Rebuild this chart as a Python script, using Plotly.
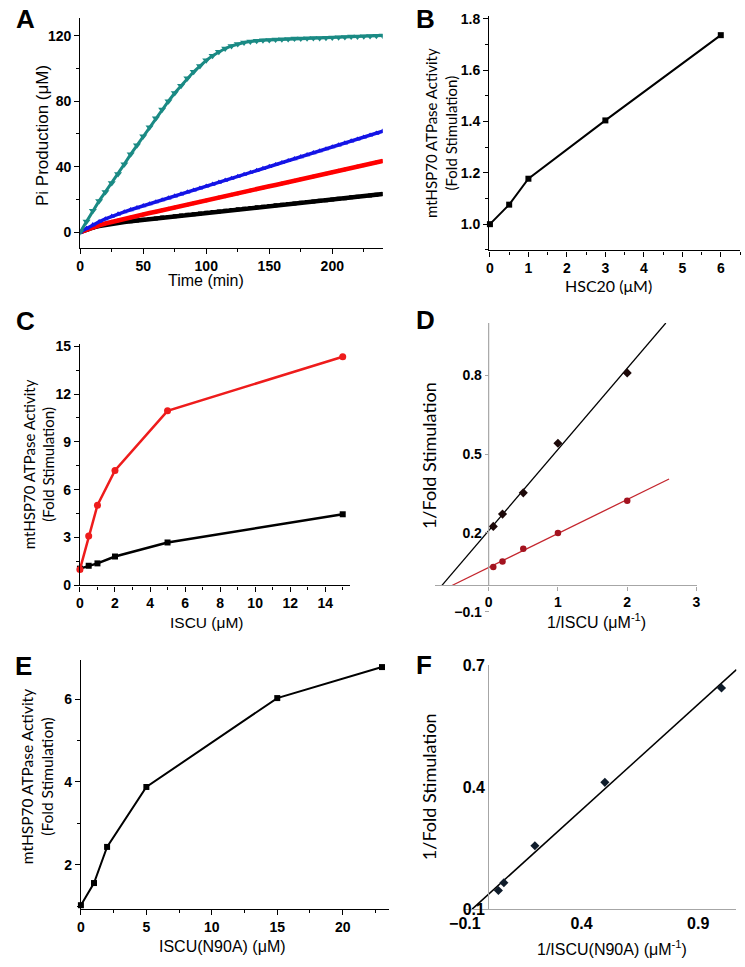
import plotly.graph_objects as go
import numpy as np

W, H = 745, 967

def px(x):
    return x / W

def py(y):
    return 1 - y / H

# ---------------- Panel A data (time course, read every 5 min) ----------------
a_time = list(range(0, 245, 5))
a_teal = [0, 6.5, 13, 19, 24.5, 30, 35.5, 41.5, 47.5, 53, 58.5, 64, 69.5, 75, 80, 85,
          89.5, 94, 98, 101.5, 105, 107.8, 110.2, 112.2, 113.8, 115, 115.9, 116.5, 117,
          117.3, 117.5, 117.7, 117.9, 118.1, 118.3, 118.4, 118.5, 118.6, 118.7, 118.8,
          118.9, 119.1, 119.3, 119.5, 119.6, 119.8, 119.9, 120, 120.2]
a_blue = [0, 2.3, 4.4, 6.3, 8, 9.6, 11, 12.3, 13.6, 14.8, 16, 17.2, 18.4, 19.6, 20.8, 22,
          23.2, 24.4, 25.6, 26.8, 28, 29.2, 30.4, 31.6, 32.8, 34, 35.2, 36.4, 37.6, 38.8,
          40, 41.2, 42.4, 43.6, 44.8, 46, 47.2, 48.4, 49.6, 50.8, 52, 53.2, 54.4, 55.6,
          56.8, 58, 59.2, 60.4, 61.6]
a_red = [0, 1.5, 2.9, 4.1, 5.2, 6.2, 7.1, 8, 8.9, 9.8, 10.7, 11.6, 12.4, 13.3, 14.2, 15,
         15.9, 16.7, 17.6, 18.5, 19.3, 20.2, 21.1, 21.9, 22.8, 23.6, 24.5, 25.4, 26.2,
         27.1, 28, 28.8, 29.7, 30.5, 31.4, 32.3, 33.1, 34, 34.9, 35.7, 36.6, 37.4, 38.3,
         39.2, 40, 40.9, 41.8, 42.6, 43.4]
a_black = [0, 1.5, 2.7, 3.6, 4.4, 5.1, 5.6, 6.1, 6.6, 7.0, 7.5, 7.9, 8.3, 8.8, 9.2, 9.6,
           10.1, 10.5, 10.9, 11.3, 11.8, 12.2, 12.6, 13.0, 13.5, 13.9, 14.3, 14.7, 15.1,
           15.5, 15.9, 16.3, 16.7, 17.1, 17.5, 17.9, 18.3, 18.7, 19.1, 19.5, 19.9, 20.3,
           20.7, 21.2, 21.6, 22.0, 22.4, 22.8, 23.2]

# ---------------- Panel B ----------------
b_hsc20 = [0, 0.5, 1, 3, 6]
b_fold = [1.0, 1.076, 1.177, 1.404, 1.736]

# ---------------- Panel C ----------------
c_iscu = [0, 0.5, 1, 2, 5, 15]
c_red = [1.0, 3.1, 5.03, 7.21, 10.95, 14.34]
c_black = [1.05, 1.23, 1.38, 1.81, 2.69, 4.46]

# ---------------- Panel D (double reciprocal) ----------------
d_inv_iscu = [0.067, 0.2, 0.5, 1.0, 2.0]
d_black = [0.225, 0.272, 0.353, 0.542, 0.81]
d_red = [0.070, 0.0915, 0.14, 0.20, 0.323]
d_black_fit = {"slope": 0.3095, "intercept": 0.2087, "x": [-0.674, 2.557]}
d_red_fit = {"slope": 0.1295, "intercept": 0.0685, "x": [-0.529, 2.604]}

# ---------------- Panel E ----------------
e_iscu = [0, 1, 2, 5, 15, 23]
e_fold = [1.02, 1.556, 2.43, 3.88, 6.03, 6.78]

# ---------------- Panel F ----------------
f_inv_iscu = [0.0435, 0.067, 0.2, 0.5, 1.0]
f_inv_fold = [0.146, 0.165, 0.256, 0.412, 0.644]
f_fit = {"slope": 0.52, "intercept": 0.136, "x": [-0.069, 1.064]}

ARIAL = "Liberation Sans, Arial, sans-serif"
CALIBRI = "Lato, Carlito, Calibri, sans-serif"

fig = go.Figure()

# Panel A traces
fig.add_trace(go.Scatter(x=a_time, y=a_black, mode="lines+markers", xaxis="x", yaxis="y",
                         line=dict(color="black", width=4.5),
                         marker=dict(symbol="square", size=4, color="black")))
fig.add_trace(go.Scatter(x=a_time, y=a_red, mode="lines+markers", xaxis="x", yaxis="y",
                         line=dict(color="#ff0000", width=4.5),
                         marker=dict(symbol="circle", size=4, color="#ff0000")))
fig.add_trace(go.Scatter(x=a_time, y=a_blue, mode="lines+markers", xaxis="x", yaxis="y",
                         line=dict(color="#1414e6", width=3.5),
                         marker=dict(symbol="triangle-up", size=5.5, color="#1414e6")))
fig.add_trace(go.Scatter(x=a_time, y=a_teal, mode="lines+markers", xaxis="x", yaxis="y",
                         line=dict(color="#1a8a84", width=3),
                         marker=dict(symbol="triangle-down", size=7, color="#1a8a84")))

# Panel B
fig.add_trace(go.Scatter(x=b_hsc20, y=b_fold, mode="lines+markers", xaxis="x2", yaxis="y2",
                         line=dict(color="black", width=2),
                         marker=dict(symbol="square", size=6, color="black"), cliponaxis=False))

# Panel C
fig.add_trace(go.Scatter(x=c_iscu, y=c_black, mode="lines+markers", xaxis="x3", yaxis="y3",
                         line=dict(color="black", width=2.5),
                         marker=dict(symbol="square", size=6, color="black"), cliponaxis=False))
fig.add_trace(go.Scatter(x=c_iscu, y=c_red, mode="lines+markers", xaxis="x3", yaxis="y3",
                         line=dict(color="#ee1c1c", width=2.5),
                         marker=dict(symbol="circle", size=7, color="#ee1c1c"), cliponaxis=False))

# Panel D
for fit, col in ((d_black_fit, "black"), (d_red_fit, "#c4262e")):
    fx = np.array(fit["x"])
    fig.add_trace(go.Scatter(x=fx, y=fit["intercept"] + fit["slope"] * fx, mode="lines",
                             xaxis="x4", yaxis="y4", line=dict(color=col, width=1.3)))
fig.add_trace(go.Scatter(x=d_inv_iscu, y=d_black, mode="markers", xaxis="x4", yaxis="y4",
                         marker=dict(symbol="diamond", size=7, color="#1c0808")))
fig.add_trace(go.Scatter(x=d_inv_iscu, y=d_red, mode="markers", xaxis="x4", yaxis="y4",
                         marker=dict(symbol="circle", size=6.5, color="#a3131f")))

# Panel E
fig.add_trace(go.Scatter(x=e_iscu, y=e_fold, mode="lines+markers", xaxis="x5", yaxis="y5",
                         line=dict(color="black", width=2),
                         marker=dict(symbol="square", size=6, color="black"), cliponaxis=False))

# Panel F
fx = np.array(f_fit["x"])
fig.add_trace(go.Scatter(x=fx, y=f_fit["intercept"] + f_fit["slope"] * fx, mode="lines",
                         xaxis="x6", yaxis="y6", line=dict(color="black", width=1.5),
                         cliponaxis=False))
fig.add_trace(go.Scatter(x=f_inv_iscu, y=f_inv_fold, mode="markers", xaxis="x6", yaxis="y6",
                         marker=dict(symbol="diamond", size=7, color="#0f1c2b")))

bold_tick = dict(family=ARIAL, size=14, color="black", weight="bold")

def origin_axis(**kw):
    d = dict(showline=True, linecolor="black", linewidth=1.3, ticks="outside", ticklen=5,
             tickwidth=1.3, tickcolor="black", showgrid=False, zeroline=False,
             tickfont=bold_tick)
    d.update(kw)
    return d

def excel_axis(**kw):
    d = dict(showline=True, linecolor="#a6a6a6", linewidth=1.2, ticks="outside", ticklen=4,
             tickwidth=1, tickcolor="#a6a6a6", showgrid=False, zeroline=False,
             tickfont=bold_tick)
    d.update(kw)
    return d

layout = dict(
    width=W, height=H, margin=dict(l=0, r=0, t=0, b=0),
    paper_bgcolor="white", plot_bgcolor="white", showlegend=False,
    # A
    xaxis=origin_axis(domain=[px(66), px(376.8)], range=[0, 240], dtick=50, anchor="y",
                      minor=dict(dtick=25, ticklen=3, ticks="outside", tickcolor="black")),
    yaxis=origin_axis(domain=[py(244), py(10)], range=[-9.6, 131], tick0=0, dtick=40, anchor="x",
                      minor=dict(tick0=0, dtick=20, ticklen=3, ticks="outside", tickcolor="black")),
    # B
    xaxis2=origin_axis(domain=[px(486.3), px(744)], range=[-0.018, 6.5], dtick=1, anchor="y2",
                       minor=dict(dtick=0.5, ticklen=3, ticks="outside", tickcolor="black")),
    yaxis2=origin_axis(domain=[py(246.7), py(8.3)], range=[0.898, 1.81], tick0=1.0, dtick=0.2,
                       tickformat=".1f", anchor="x2",
                       minor=dict(tick0=1.0, dtick=0.1, ticklen=3, ticks="outside", tickcolor="black")),
    # C
    xaxis3=origin_axis(domain=[px(65.7), px(343.3)], range=[0, 15.42], dtick=2, anchor="y3",
                       minor=dict(dtick=1, ticklen=3, ticks="outside", tickcolor="black")),
    yaxis3=origin_axis(domain=[py(587.7), py(341.7)], range=[0, 15.16], tick0=0, dtick=3, anchor="x3",
                       minor=dict(tick0=0, dtick=1.5, ticklen=3, ticks="outside", tickcolor="black")),
    # D
    xaxis4=excel_axis(domain=[px(430.3), px(699.3)], range=[-0.778, 3.0005], tick0=0, dtick=1,
                      anchor="free", position=py(587.8)),
    yaxis4=excel_axis(domain=[py(614.5), py(320.7)], range=[-0.1, 1.0], tick0=-0.1, dtick=0.3,
                      tickformat=".1f", anchor="free", position=px(485.7), showline=False),
    # E
    xaxis5=origin_axis(domain=[px(66.7), px(382.8)], range=[0, 23.5], dtick=5, anchor="y5",
                       minor=dict(dtick=2.5, ticklen=3, ticks="outside", tickcolor="black")),
    yaxis5=origin_axis(domain=[py(916.7), py(663.3)], range=[0.938, 6.96], tick0=0, dtick=2,
                       anchor="x5",
                       minor=dict(tick0=0, dtick=1, ticklen=3, ticks="outside", tickcolor="black")),
    # F
    xaxis6=excel_axis(domain=[px(461.3), px(740.3)], range=[-0.1, 1.064], tick0=-0.1, dtick=0.5,
                      tickformat=".1f", anchor="y6", ticks="", tickfont=dict(family=ARIAL, size=16,
                                                                             color="black", weight="bold")),
    yaxis6=excel_axis(domain=[py(917.3), py(669)], range=[0.1, 0.7], tick0=0.1, dtick=0.3,
                      tickformat=".1f", anchor="free", position=px(485.3), ticks="",
                      tickfont=dict(family=ARIAL, size=16, color="black", weight="bold")),
)
fig.update_layout(**layout)

# D vertical axis line (from y = 0 to the top of the range, as in the source)
fig.add_shape(type="line", xref="x4", yref="y4", x0=0, x1=0, y0=0, y1=1.0,
              line=dict(color="#a6a6a6", width=1.2))

def ann(text, x, y, size, family, angle=0, bold=False):
    fig.add_annotation(text=text, x=px(x), y=py(y), xref="paper", yref="paper",
                       xanchor="center", yanchor="middle", showarrow=False, textangle=angle,
                       font=dict(family=family, size=size, color="black",
                                 weight="bold" if bold else "normal"))

# panel letters
for letter, (lx, ly) in {"A": (10, 11), "B": (420.5, 11.5), "C": (10, 319), "D": (420.5, 317.5),
                          "E": (8, 670), "F": (419.5, 669)}.items():
    ann(letter, lx, ly, 26, ARIAL, bold=True)

# axis titles
ann("Pi Production (μM)", 27, 130, 17, ARIAL, angle=-90)
ann("Time (min)", 195, 277, 16, ARIAL)
ann("mtHSP70 ATPase Activity<br>(Fold Stimulation)", 437.5, 127.5, 15, CALIBRI, angle=-90)
ann("HSC20 (μM)", 609, 282, 16, CALIBRI)
ann("mtHSP70 ATPase Activity<br>(Fold Stimulation)", 23, 464, 15, CALIBRI, angle=-90)
ann("ISCU (μM)", 196.7, 626, 15.5, ARIAL)
ann("1/Fold Stimulation", 424.5, 456, 18, CALIBRI, angle=-90)
ann("1/ISCU (μM<sup>-1</sup>)", 597, 624, 16, ARIAL)
ann("mtHSP70 ATPase Activity<br>(Fold Stimulation)", 21, 782.5, 15.5, CALIBRI, angle=-90)
ann("ISCU(N90A) (μM)", 212, 955, 16, ARIAL)
ann("1/Fold Stimulation", 424.5, 793, 18, CALIBRI, angle=-90)
ann("1/ISCU(N90A) (μM<sup>-1</sup>)", 612, 957, 16, ARIAL)

# remove the browser's default page margin so the figure sits at the window origin
fig.write_html("out.html", config={"displayModeBar": False},
               post_script="document.body.style.margin='0px';document.body.style.overflow='hidden';")
